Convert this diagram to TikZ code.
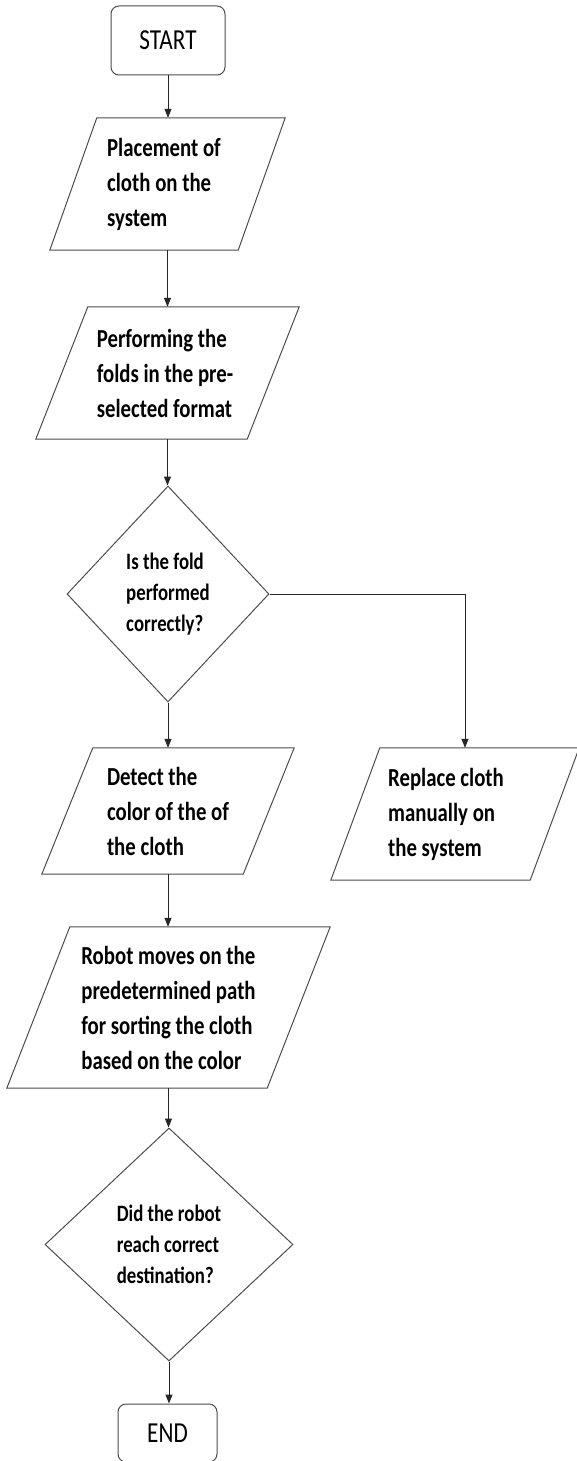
\documentclass[tikz,border=0pt]{standalone}
\usepackage{fontspec}
\setmainfont{Carlito}[FakeStretch=0.8]
\usetikzlibrary{shapes.geometric,arrows.meta,calc}
\tikzset{
  shapeline/.style={draw=black!70,line width=1pt},
  arr/.style={draw=black!85,line width=1pt,-{Triangle[length=9pt,width=7pt]}},
  term/.style={shapeline,rounded corners=8pt,inner sep=0pt,font=\fontsize{29}{32}\selectfont},
  iobox/.style={inner sep=0pt,align=left,font=\fontsize{26}{35}\selectfont\bfseries},
  decide/.style={shapeline,shape=diamond,inner sep=0pt,align=left,font=\fontsize{23.5}{31}\selectfont\bfseries},
}
\newcommand{\parashape}[2]{\draw[shapeline] ($(#1.north west)+(#2pt,0pt)$) -- (#1.north east) -- ($(#1.south east)-(#2pt,0pt)$) -- (#1.south west) -- cycle;}
\begin{document}
\begin{tikzpicture}[x=1pt,y=-1pt]
\useasboundingbox (0,0) rectangle (576,1461);
\node[term,minimum width=114pt,minimum height=69pt] (start) at (168,40.5) {START};
\node[iobox,minimum width=235pt,minimum height=132pt] (p1) at (167.5,184) {Placement of\hspace*{7pt}\\cloth on the\\system};
\parashape{p1}{47}
\node[iobox,minimum width=263pt,minimum height=132pt] (p2) at (167.5,373) {Performing the\\folds in the pre-\\selected format\hspace*{6pt}};
\parashape{p2}{52}
\node[decide,minimum width=202pt,minimum height=216pt] (d1) at (168,594) {Is the fold\\performed\\correctly?};
\node[iobox,minimum width=252pt,minimum height=126pt] (det) at (168,811) {Detect the\\color of the of\hspace*{14pt}\\the cloth};
\parashape{det}{51}
\node[iobox,minimum width=248pt,minimum height=132pt] (rep) at (455,814) {Replace cloth\hspace*{18pt}\\manually on\\the system};
\parashape{rep}{49}
\node[iobox,minimum width=323pt,minimum height=161pt] (rob) at (168.5,1007.5) {Robot moves on the\\predetermined path\\for sorting the cloth\\based on the color};
\parashape{rob}{63}
\node[decide,minimum width=248pt,minimum height=233pt] (d2) at (169,1244.5) {Did the robot\\reach correct\\destination?};
\node[term,minimum width=99pt,minimum height=58pt] (end) at (167.5,1433) {END};
\coordinate (repin) at ($(rep.north)+(10pt,0pt)$);
\draw[arr] (start.south) -- (start.south |- p1.north);
\draw[arr] (p1.south) -- (p1.south |- p2.north);
\draw[arr] (p2.south) -- (p2.south |- d1.north);
\draw[arr] (d1.south) -- (d1.south |- det.north);
\draw[arr] (d1.east) -| (repin);
\draw[arr] (det.south) -- (det.south |- rob.north);
\draw[arr] (rob.south) -- (rob.south |- d2.north);
\draw[arr] (d2.south) -- (d2.south |- end.north);
\end{tikzpicture}
\end{document}
